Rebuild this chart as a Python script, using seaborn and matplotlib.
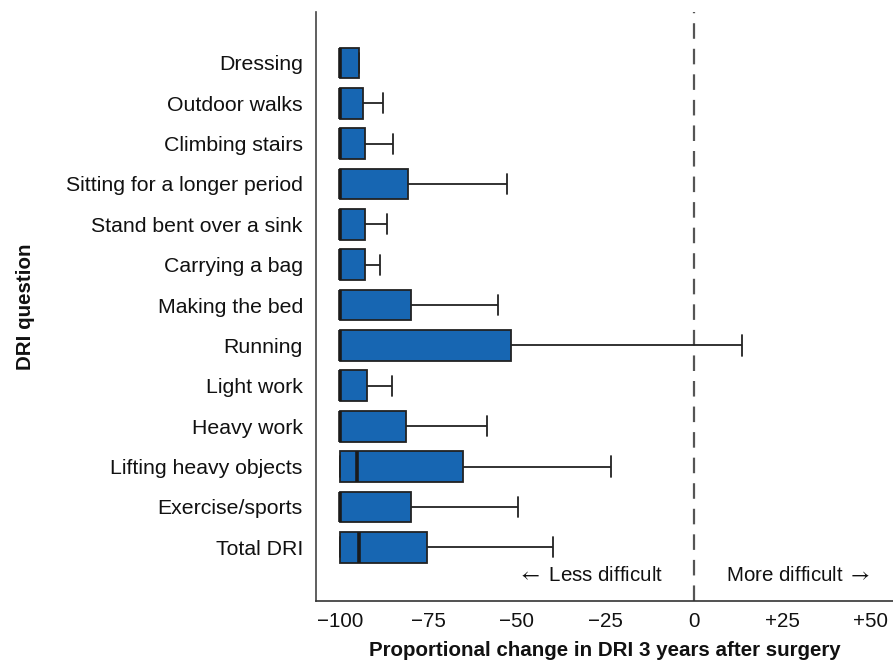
import pandas as pd
import numpy as np
import matplotlib
matplotlib.use('Agg')
import matplotlib.pyplot as plt
import seaborn as sns

# Valores (mínimo, Q1, mediana, Q3, máximo)
questoes = ['Dressing', 'Outdoor walks', 'Climbing stairs', 'Sitting for a longer period',
            'Stand bent over a sink', 'Carrying a bag', 'Making the bed', 'Running',
            'Light work', 'Heavy work', 'Lifting heavy objects', 'Exercise/sports', 'Total DRI']
minimo = [-100] * 13
q1 = [-100] * 13
mediana = [-100, -100, -100, -100, -100, -100, -100, -100, -100, -100, -95.2, -100, -94.6]
q3 = [-94.5, -93.4, -92.9, -80.9, -92.9, -92.9, -80.0, -51.7, -92.5, -81.3, -65.2, -79.9, -75.5]
maximo = [-94.5, -87.9, -85.0, -52.7, -86.7, -88.8, -55.3, 13.8, -85.4, -58.4, -23.3, -49.8, -39.9]
ticks = [-100, -75, -50, -25, 0, 25, 50]
rotulos_ticks = ['\u2212100', '\u221275', '\u221250', '\u221225', '0', '+25', '+50']

# Tabela longa: cinco pontos por questão reproduzem os quartis
linhas = []
for i, q in enumerate(questoes):
    for v in (minimo[i], q1[i], mediana[i], q3[i], maximo[i]):
        linhas.append({'questao': q, 'valor': v})
dados = pd.DataFrame(linhas)

sns.set_style('white')
plt.rcParams['font.family'] = ['Liberation Sans', 'DejaVu Sans']
plt.rcParams['mathtext.fontset'] = 'stix'
plt.rcParams['text.color'] = '#111111'
plt.rcParams['axes.labelcolor'] = '#111111'
plt.rcParams['xtick.color'] = '#111111'
plt.rcParams['ytick.color'] = '#111111'

fig = plt.figure(figsize=(8.93, 6.65), dpi=100)
ax = fig.add_axes([316 / 893, 1 - 601 / 665, 1 - 316 / 893, (601 - 12) / 665])

sns.boxplot(data=dados, x='valor', y='questao', order=questoes, whis=(0, 100),
            width=0.76, color='#1766b2', saturation=1, linewidth=1.3, ax=ax,
            boxprops=dict(edgecolor='#222222'),
            whiskerprops=dict(color='#222222', linewidth=1.3),
            capprops=dict(color='#222222', linewidth=1.3),
            medianprops=dict(color='#1a1a1a', linewidth=2.6),
            showfliers=False)

# Alargar um pouco as barras das extremidades (caps)
for ln in ax.lines:
    xd = np.asarray(ln.get_xdata(), dtype=float)
    yd = np.asarray(ln.get_ydata(), dtype=float)
    if len(xd) == 2 and xd[0] == xd[1]:
        comp = abs(yd[1] - yd[0])
        if comp < 0.6:
            c = yd.mean()
            ln.set_ydata([c - 0.25, c + 0.25])

ax.axvline(0, color='#555555', linewidth=1.6, dashes=(7, 4.5), zorder=0)

ax.set_xlim(-106.8, 56.4)
ax.set_ylim(13.33, -1.26)
ax.set_xticks(ticks)
ax.set_xticklabels(rotulos_ticks)
ax.tick_params(axis='x', direction='in', length=5, width=1, color='#333333',
               labelsize=14.8, pad=8)
ax.tick_params(axis='y', length=0, labelsize=15.3, pad=9.5)

for lado in ['top', 'right']:
    ax.spines[lado].set_visible(False)
ax.spines['left'].set_color('#444444')
ax.spines['bottom'].set_color('#333333')
ax.spines['left'].set_linewidth(1.2)
ax.spines['bottom'].set_linewidth(1.2)

ax.text(-8.5, 12.83, r'$\leftarrow$ Less difficult', ha='right', va='baseline', fontsize=14.8)
ax.text(9.1, 12.83, r'More difficult $\rightarrow$', ha='left', va='baseline', fontsize=14.8)

ax.set_xlabel('Proportional change in DRI 3 years after surgery', fontsize=14.8,
              fontweight='bold', labelpad=7)
ax.set_ylabel('DRI question', fontsize=14.8, fontweight='bold', labelpad=22)

fig.savefig('out.png', dpi=100)
